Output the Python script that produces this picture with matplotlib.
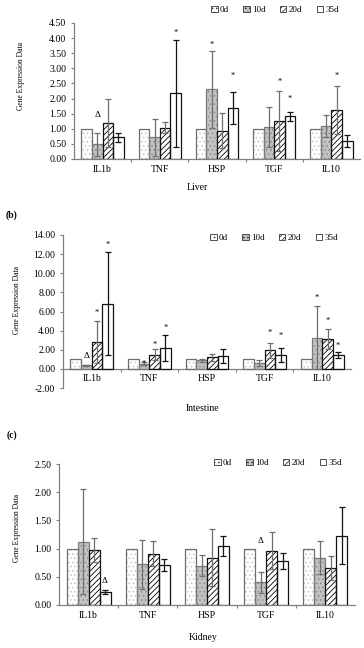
"""Gene expression in liver, intestine and kidney over time (0d/10d/20d/35d)."""

import matplotlib

matplotlib.use("Agg")
import matplotlib.pyplot as plt
import numpy as np
from matplotlib.patches import Patch

GENES = ["IL1b", "TNF", "HSP", "TGF", "IL10"]
DAYS = ["0d", "10d", "20d", "35d"]

# means per day (rows) and gene (columns)
LIVER_MEAN = [
    [1.00, 1.00, 1.00, 1.00, 1.00],
    [0.48, 0.72, 2.30, 1.07, 1.08],
    [1.18, 1.04, 0.94, 1.26, 1.61],
    [0.72, 2.18, 1.68, 1.41, 0.60],
]
LIVER_SD = [
    [0.00, 0.00, 0.00, 0.00, 0.00],
    [0.37, 0.61, 1.27, 0.66, 0.36],
    [0.79, 0.18, 0.57, 0.98, 0.79],
    [0.15, 1.77, 0.53, 0.16, 0.20],
]
INTESTINE_MEAN = [
    [1.00, 1.00, 1.00, 1.00, 1.00],
    [0.38, 0.55, 0.88, 0.60, 3.28],
    [2.78, 1.50, 1.20, 1.95, 3.10],
    [6.82, 2.20, 1.35, 1.45, 1.45],
]
INTESTINE_SD = [
    [0.00, 0.00, 0.00, 0.00, 0.00],
    [0.05, 0.12, 0.12, 0.30, 3.27],
    [2.20, 0.55, 0.40, 0.80, 1.03],
    [5.38, 1.35, 0.72, 0.70, 0.30],
]
KIDNEY_MEAN = [
    [1.00, 1.00, 1.00, 1.00, 1.00],
    [1.12, 0.72, 0.70, 0.40, 0.84],
    [0.98, 0.91, 0.84, 0.96, 0.65],
    [0.23, 0.71, 1.05, 0.78, 1.23],
]
KIDNEY_SD = [
    [0.00, 0.00, 0.00, 0.00, 0.00],
    [0.93, 0.43, 0.19, 0.19, 0.29],
    [0.21, 0.22, 0.51, 0.33, 0.21],
    [0.04, 0.11, 0.18, 0.14, 0.51],
]

# significance marks: (gene index, day index, symbol, y)
LIVER_MARKS = [
    (0, 1, "Δ", 1.46), (1, 3, "*", 4.16), (2, 1, "*", 3.79), (2, 3, "*", 2.76),
    (3, 2, "*", 2.54), (3, 3, "*", 1.98), (4, 2, "*", 2.75),
]
INTESTINE_MARKS = [
    (0, 1, "Δ", 1.32), (0, 2, "*", 5.9), (0, 3, "*", 12.95), (1, 1, "*", 0.55),
    (1, 2, "*", 2.47), (1, 3, "*", 4.27), (3, 2, "*", 3.75), (3, 3, "*", 3.4),
    (4, 1, "*", 7.4), (4, 2, "*", 5.07), (4, 3, "*", 2.36),
]
KIDNEY_MARKS = [(0, 3, "Δ", 0.43), (3, 1, "Δ", 1.13)]

# fill, hatch, hatch colour, outline, error bar colour per day
STYLES = [
    ("white", "....", "#c4c4c4", "#6e6e6e", "#6e6e6e"),
    ("#c2c2c2", "....", "#8a8a8a", "#7a7a7a", "#6e6e6e"),
    ("white", "//////", "#000000", "#111111", "#6e6e6e"),
    ("white", "", "white", "#111111", "#111111"),
]
GREY = "#808080"
BAR_W = 0.185
FONT = "Liberation Serif"

plt.rcParams["font.family"] = [FONT, "DejaVu Serif"]
plt.rcParams["hatch.linewidth"] = 0.6


def draw_panel(ax, means, sds, marks, ylim, ystep, xlabel, ylabel_pos, xlabel_pos, legend_xy):
    x = np.arange(len(GENES)) + 0.5
    for d, (face, hatch, hcol, edge, ecol) in enumerate(STYLES):
        pos = x + (d - 1.5) * BAR_W
        ax.bar(pos, means[d], BAR_W, color=face, hatch=hatch, edgecolor=hcol, linewidth=0, zorder=2)
        ax.bar(pos, means[d], BAR_W, facecolor="none", edgecolor=edge, linewidth=0.9, zorder=3)
        if any(sds[d]):
            ax.errorbar(pos, means[d], yerr=sds[d], fmt="none", ecolor=ecol,
                        elinewidth=0.9, capsize=2.2, capthick=0.9, zorder=4)
    for g, d, sym, y in marks:
        ax.text(x[g] + (d - 1.5) * BAR_W, y, sym, ha="center", va="center",
                fontsize=6 if sym == "*" else 6.5, zorder=5)

    ax.set_xlim(0, len(GENES))
    ax.set_ylim(*ylim)
    ax.set_yticks(np.arange(ylim[0], ylim[1] + ystep / 2, ystep))
    ax.yaxis.set_major_formatter(matplotlib.ticker.FormatStrFormatter("%.2f"))
    ax.set_xticks(x)
    ax.set_xticklabels(GENES)
    ax.set_xticks(np.arange(1, len(GENES)), minor=True)
    ax.tick_params(axis="x", which="major", length=0, pad=4, labelsize=7)
    ax.tick_params(axis="x", which="minor", length=2.5, color=GREY, width=0.8)
    ax.tick_params(axis="y", length=2.5, color=GREY, width=0.8, labelsize=7, pad=3)
    for side in ("top", "right"):
        ax.spines[side].set_visible(False)
    for side in ("left", "bottom"):
        ax.spines[side].set_color(GREY)
        ax.spines[side].set_linewidth(0.9)
    if ylim[0] < 0:
        ax.spines["bottom"].set_position(("data", 0))

    ax.set_ylabel("Gene Expression Data", fontsize=5.5)
    ax.yaxis.set_label_coords(*ylabel_pos)
    ax.set_xlabel(xlabel, fontsize=7)
    ax.xaxis.set_label_coords(*xlabel_pos)

    handles = [Patch(facecolor=s[0], hatch=s[1], edgecolor="#333333", linewidth=0.6) for s in STYLES]
    ax.legend(handles, DAYS, loc="center", bbox_to_anchor=legend_xy, bbox_transform=ax.figure.transFigure,
              ncol=4, frameon=False, fontsize=6.5, handlelength=0.7, handleheight=0.7,
              handletextpad=0.25, columnspacing=1.6, borderaxespad=0)


def main() -> None:
    fig = plt.figure(figsize=(3.64, 6.48), dpi=100)
    W, H = 364, 648

    def rect(left, right, top, bottom):
        return [left / W, 1 - bottom / H, (right - left) / W, (bottom - top) / H]

    ax_a = fig.add_axes(rect(74, 360, 23, 159))
    ax_b = fig.add_axes(rect(63, 351, 235, 388))
    ax_c = fig.add_axes(rect(59, 355, 464, 605))

    draw_panel(ax_a, LIVER_MEAN, LIVER_SD, LIVER_MARKS, (0, 4.5), 0.5, "Liver",
               (-0.171, 0.61), (0.43, -0.176), (275 / W, 1 - 10 / H))
    draw_panel(ax_b, INTESTINE_MEAN, INTESTINE_SD, INTESTINE_MARKS, (-2, 14), 2, "Intestine",
               (-0.146, 0.575), (0.486, -0.105), (274 / W, 1 - 238 / H))
    draw_panel(ax_c, KIDNEY_MEAN, KIDNEY_SD, KIDNEY_MARKS, (0, 2.5), 0.5, "Kidney",
               (-0.129, 0.546), (0.486, -0.199), (278 / W, 1 - 463 / H))

    fig.text(12 / W, 1 - 215 / H, "(b)", fontsize=7, fontweight="bold", ha="center", va="center")
    fig.text(12 / W, 1 - 435 / H, "(c)", fontsize=7, fontweight="bold", ha="center", va="center")

    fig.savefig("out.png", dpi=100)


if __name__ == "__main__":
    main()
